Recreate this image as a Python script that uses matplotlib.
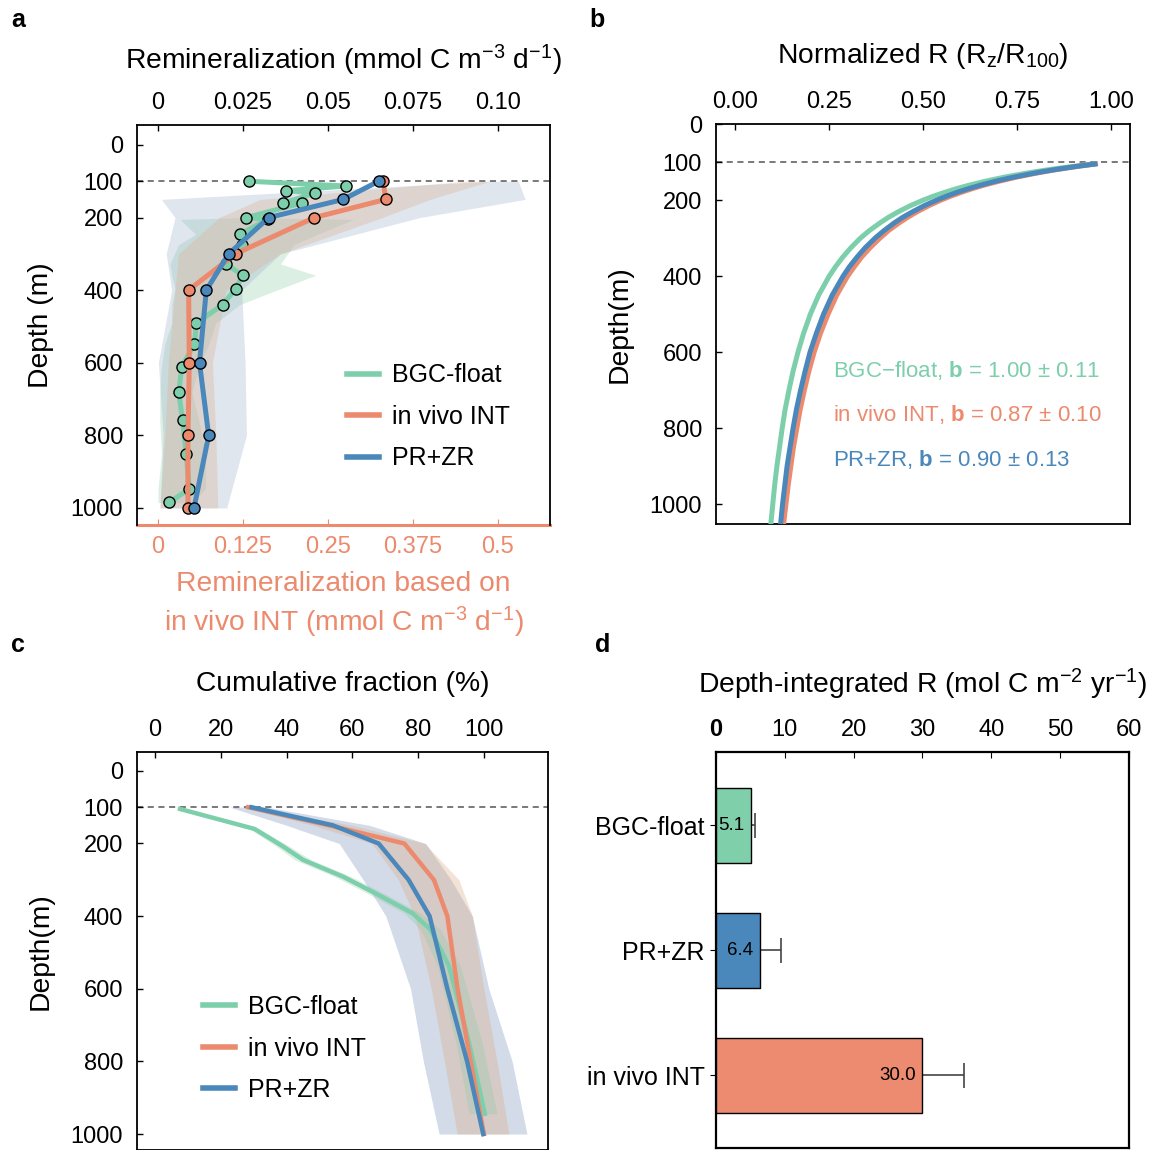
import numpy as np
import matplotlib
matplotlib.use("Agg")
import matplotlib.pyplot as plt
from matplotlib.lines import Line2D

plt.rcParams['font.family'] = ['Liberation Sans', 'DejaVu Sans']
plt.rcParams['mathtext.fontset'] = 'custom'
plt.rcParams['mathtext.rm'] = 'Liberation Sans'
plt.rcParams['mathtext.it'] = 'Liberation Sans:italic'
plt.rcParams['mathtext.bf'] = 'Liberation Sans:bold'

GREEN = '#7dcfab'
ORANGE = '#ec8a6e'
BLUE = '#4a87bb'
GREEN_BAND = '#8acaa5'
ORANGE_BAND = '#deac8a'
BLUE_BAND = '#a6b8d1'

# ---- panel a: remineralization profiles ----
float_depth = [100, 113, 126, 132, 161, 160, 200, 205, 246, 275, 328, 359, 396, 440, 491, 548, 611, 681, 759, 851, 948, 985]
float_R = [0.0268, 0.0552, 0.0377, 0.0461, 0.0368, 0.0423, 0.0259, 0.0324, 0.0241, 0.0246, 0.0200, 0.0249,
           0.0229, 0.0190, 0.0113, 0.0107, 0.0070, 0.0061, 0.0072, 0.0083, 0.0092, 0.0032]
float_lo = [0.026, 0.054, 0.037, 0.045, 0.036, 0.041, 0.025, 0.0065, 0.011, 0.006, 0.0035, 0.004,
            0.005, 0.004, 0.004, 0.002, 0.001, 0.0005, 0.0005, 0.001, 0.0, 0.0]
float_hi = [0.028, 0.056, 0.039, 0.047, 0.038, 0.043, 0.027, 0.0576, 0.047, 0.040, 0.036, 0.0464,
            0.036, 0.024, 0.017, 0.015, 0.012, 0.010, 0.012, 0.014, 0.014, 0.010]

prof_depth = [100, 150, 200, 300, 400, 600, 800, 1000]
# in vivo INT, read on the bottom (orange) axis
int_R = [0.331, 0.335, 0.230, 0.114, 0.045, 0.046, 0.044, 0.044]
int_lo = [0.45, 0.15, 0.09, 0.03, 0.025, 0.015, 0.01, 0.0025]
int_hi = [0.488, 0.40, 0.33, 0.18, 0.10, 0.08, 0.085, 0.088]
# PR+ZR, read on the top axis
przr_R = [0.0649, 0.0545, 0.0326, 0.0208, 0.0142, 0.0122, 0.0149, 0.0106]
przr_lo = [0.097, 0.001, 0.005, 0.0024, 0.004, 0.0001, 0.0015, 0.0006]
przr_hi = [0.106, 0.108, 0.077, 0.036, 0.0246, 0.0256, 0.026, 0.0202]
INT_SCALE = 5  # bottom axis = 5 x top axis

# ---- panel b: normalized R ----
norm_depth = [105, 110, 115, 120, 125, 130, 140, 150, 160, 170, 180, 190, 200, 215, 230, 245, 260, 280,
              300, 325, 350, 375, 400, 450, 500, 550, 600, 650, 700, 750, 800, 850, 900, 950, 1000, 1050]
norm_float = [0.952, 0.909, 0.870, 0.833, 0.800, 0.769, 0.714, 0.667, 0.625, 0.588, 0.556, 0.526,
              0.500, 0.465, 0.435, 0.408, 0.385, 0.357, 0.333, 0.308, 0.286, 0.267, 0.250, 0.222,
              0.200, 0.182, 0.167, 0.154, 0.143, 0.133, 0.125, 0.118, 0.111, 0.105, 0.100, 0.095]
norm_int = [0.958, 0.920, 0.886, 0.853, 0.824, 0.796, 0.746, 0.703, 0.664, 0.630, 0.600, 0.572,
            0.547, 0.514, 0.485, 0.459, 0.436, 0.408, 0.385, 0.359, 0.336, 0.317, 0.299, 0.270,
            0.247, 0.227, 0.210, 0.196, 0.184, 0.173, 0.164, 0.155, 0.148, 0.141, 0.135, 0.129]
norm_przr = [0.957, 0.918, 0.882, 0.849, 0.818, 0.790, 0.739, 0.694, 0.655, 0.620, 0.589, 0.561,
             0.536, 0.502, 0.473, 0.446, 0.423, 0.396, 0.372, 0.346, 0.324, 0.304, 0.287, 0.258,
             0.235, 0.216, 0.199, 0.186, 0.174, 0.163, 0.154, 0.146, 0.138, 0.132, 0.126, 0.121]
b_labels = ['BGC\u2212float, $\\mathbf{b}$ = 1.00 \u00b1 0.11',
            'in vivo INT, $\\mathbf{b}$ = 0.87 \u00b1 0.10',
            'PR+ZR, $\\mathbf{b}$ = 0.90 \u00b1 0.13']

# ---- panel c: cumulative fraction ----
cf_float_depth = [105, 160, 208, 245, 291, 338, 392, 437, 538, 749, 944]
cf_float = [7.6, 30.3, 38.9, 45.0, 57.1, 67.2, 78.3, 83.8, 89.4, 95.5, 100.3]
cf_float_lo = [7.1, 28.8, 36.9, 42.5, 54.6, 64.7, 75.8, 80.8, 85.9, 91.5, 95.5]
cf_float_hi = [8.1, 31.8, 40.9, 47.5, 59.6, 69.7, 80.8, 86.8, 92.9, 99.5, 104.0]
cf_int = [28.3, 53.0, 75.8, 84.8, 88.9, 92.0, 96.0, 100.0]
cf_int_lo = [27.0, 48.0, 66.0, 74.0, 79.0, 84.0, 88.0, 91.9]
cf_int_hi = [30.0, 60.0, 82.0, 92.4, 96.5, 100.0, 104.0, 107.6]
cf_przr = [29.3, 54.1, 68.0, 77.1, 83.5, 88.9, 94.9, 99.8]
cf_przr_lo = [22.7, 40.0, 56.0, 63.3, 70.2, 77.7, 81.6, 86.4]
cf_przr_hi = [34.0, 65.2, 82.3, 90.0, 96.5, 101.5, 108.6, 113.1]

# ---- panel d: depth-integrated R ----
methods = ['BGC-float', 'PR+ZR', 'in vivo INT']
integrated = [5.1, 6.4, 30.0]
integrated_err = [0.6, 3.0, 6.1]
bar_colors = ['#7fcfaa', '#4a87bb', '#ec8b70']

depth_ticks = [0, 100, 200, 400, 600, 800, 1000]
TICK = 17
LABEL = 20.3

fig = plt.figure(figsize=(11.5, 11.5), dpi=100)
ax_a = fig.add_axes([0.1191, 0.5435, 0.3591, 0.3478])
ax_b = fig.add_axes([0.6226, 0.5443, 0.3600, 0.3478])
ax_c = fig.add_axes([0.1191, 0.0, 0.3574, 0.3461])
ax_d = fig.add_axes([0.6226, 0.0017, 0.3591, 0.3443])


def style_depth_axis(ax, top_label, ylabel, ylim, labelpad=17):
    ax.xaxis.tick_top()
    ax.xaxis.set_label_position('top')
    ax.set_xlabel(top_label, fontsize=LABEL, labelpad=labelpad)
    ax.set_ylabel(ylabel, fontsize=LABEL, labelpad=12)
    ax.set_ylim(*ylim)
    ax.set_yticks(depth_ticks)
    ax.tick_params(direction='in', length=4, width=1, labelsize=TICK)
    ax.tick_params(axis='x', pad=8)
    ax.tick_params(axis='y', pad=10)
    for s in ax.spines.values():
        s.set_linewidth(1.3)
    ax.axhline(100, color='#555555', lw=1.1, ls=(0, (4, 3)), zorder=1)


def add_legend(ax, x, y):
    handles = [Line2D([], [], color=c, lw=4) for c in (GREEN, ORANGE, BLUE)]
    ax.legend(handles, ['BGC-float', 'in vivo INT', 'PR+ZR'], loc='upper left',
              bbox_to_anchor=(x, y), frameon=False, fontsize=18, borderpad=0,
              borderaxespad=0, handlelength=1.3, handletextpad=0.5, labelspacing=0.7)


# panel a
ax = ax_a
ax.fill_betweenx(float_depth, float_lo, float_hi, color=GREEN_BAND, alpha=0.3, lw=0)
ax.fill_betweenx(prof_depth, np.array(przr_lo), np.array(przr_hi), color=BLUE_BAND, alpha=0.35, lw=0)
ax.fill_betweenx(prof_depth, np.array(int_lo) / INT_SCALE, np.array(int_hi) / INT_SCALE,
                 color=ORANGE_BAND, alpha=0.3, lw=0)
mk = dict(marker='o', ms=8, mec='black', mew=1.0)
ax.plot(float_R, float_depth, color=GREEN, lw=3.6, mfc=GREEN, zorder=3, **mk)
ax.plot(np.array(int_R) / INT_SCALE, prof_depth, color=ORANGE, lw=3.6, mfc=ORANGE, zorder=4, **mk)
ax.plot(przr_R, prof_depth, color=BLUE, lw=3.6, mfc=BLUE, zorder=5, **mk)
ax.set_xlim(-0.0062, 0.1153)
ax.set_xticks([0, 0.025, 0.05, 0.075, 0.10])
ax.set_xticklabels(['0', '0.025', '0.05', '0.075', '0.10'])
style_depth_axis(ax, 'Remineralization (mmol C m$^{-3}$ d$^{-1}$)', 'Depth (m)', (1047, -55), 16)
ax.spines['bottom'].set_visible(False)
sec = ax.secondary_xaxis('bottom', functions=(lambda x: x * INT_SCALE, lambda x: x / INT_SCALE))
sec.set_xticks([0, 0.125, 0.25, 0.375, 0.5])
sec.set_xticklabels(['0', '0.125', '0.25', '0.375', '0.5'])
sec.tick_params(direction='in', length=4, colors=ORANGE, labelsize=TICK, pad=8)
sec.spines['bottom'].set_color(ORANGE)
sec.spines['bottom'].set_linewidth(2.2)
sec.set_xlabel('Remineralization based on\nin vivo INT (mmol C m$^{-3}$ d$^{-1}$)',
               color=ORANGE, fontsize=LABEL, labelpad=9, linespacing=1.3)
add_legend(ax, 0.508, 0.404)

# panel b
ax = ax_b
ax.plot(norm_float, norm_depth, color=GREEN, lw=3.6, zorder=3)
ax.plot(norm_int, norm_depth, color=ORANGE, lw=3.6, zorder=4)
ax.plot(norm_przr, norm_depth, color=BLUE, lw=3.6, zorder=5)
ax.set_xlim(-0.051, 1.05)
ax.set_xticks([0, 0.25, 0.5, 0.75, 1.0])
ax.set_xticklabels(['0.00', '0.25', '0.50', '0.75', '1.00'])
style_depth_axis(ax, 'Normalized R ($\\mathrm{R_z/R_{100}}$)', 'Depth(m)', (1052, 0), 20)
for lab, col, d in zip(b_labels, (GREEN, ORANGE, BLUE), (649, 765, 881)):
    ax.text(0.26, d, lab, color=col, fontsize=16, va='center', ha='left')

# panel c
ax = ax_c
ax.fill_betweenx(prof_depth, cf_przr_lo, cf_przr_hi, color=BLUE_BAND, alpha=0.5, lw=0)
ax.fill_betweenx(prof_depth, cf_int_lo, cf_int_hi, color=ORANGE_BAND, alpha=0.35, lw=0)
ax.fill_betweenx(cf_float_depth, cf_float_lo, cf_float_hi, color=GREEN_BAND, alpha=0.3, lw=0)
ax.plot(cf_float, cf_float_depth, color=GREEN, lw=3.2, zorder=3)
ax.plot(cf_int, prof_depth, color=ORANGE, lw=3.2, zorder=4)
ax.plot(cf_przr, prof_depth, color=BLUE, lw=3.2, zorder=5)
ax.set_xlim(-5.5, 119.5)
ax.set_xticks([0, 20, 40, 60, 80, 100])
style_depth_axis(ax, 'Cumulative fraction (%)', 'Depth(m)', (1044, -52), 20)
add_legend(ax, 0.16, 0.389)

# panel d
ax = ax_d
pos = np.arange(len(methods))
ax.errorbar(integrated, pos, xerr=integrated_err, fmt='none', ecolor='#444444',
            elinewidth=1.2, capsize=9, capthick=1.2, zorder=2)
ax.barh(pos, integrated, height=0.6, color=bar_colors, edgecolor='black', linewidth=1, zorder=3)
for v, p in zip(integrated, pos):
    ax.annotate(f'{v:.1f}', (v, p), xytext=(-5, 0), textcoords='offset points',
                ha='right', va='center', fontsize=13.5, zorder=4)
ax.set_yticks(pos)
ax.set_yticklabels(methods)
ax.set_ylim(2.584, -0.584)
ax.set_xlim(0, 60)
ax.set_xticks([0, 10, 20, 30, 40, 50, 60])
ax.xaxis.tick_top()
ax.xaxis.set_label_position('top')
ax.set_xlabel('Depth-integrated R (mol C m$^{-2}$ yr$^{-1}$)', fontsize=LABEL, labelpad=18)
ax.tick_params(axis='x', direction='in', length=4, labelsize=TICK, pad=8)
ax.tick_params(axis='y', direction='out', length=4, labelsize=18, pad=4)
ax.get_xticklabels()[0].set_fontweight('bold')
for s in ax.spines.values():
    s.set_linewidth(1.6)

for lab, x, y in (('a', 18, 20), ('b', 597, 20), ('c', 18, 645), ('d', 603, 645)):
    fig.text(x / 1150, 1 - y / 1150, lab, fontsize=18, fontweight='bold', ha='center', va='center')

fig.savefig('out.png', dpi=100)
